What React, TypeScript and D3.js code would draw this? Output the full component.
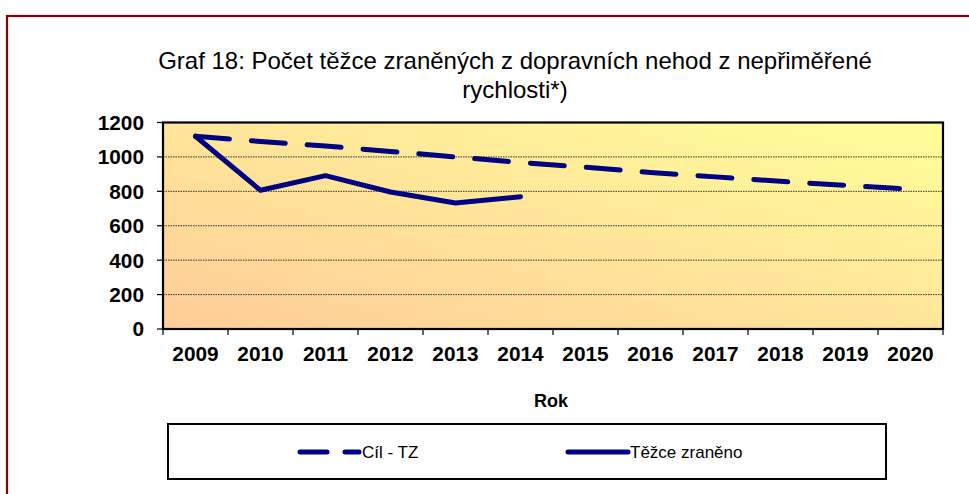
import * as d3 from "d3";

const years = ["2009", "2010", "2011", "2012", "2013", "2014", "2015", "2016", "2017", "2018", "2019", "2020"];
// Cíl - TZ (target), dashed
const targetValues = [1120, 1090, 1063, 1032, 1000, 968, 940, 910, 884, 858, 835, 812];
// Těžce zraněno (actual), solid
const actualYears = ["2009", "2010", "2011", "2012", "2013", "2014"];
const actualValues = [1120, 806, 891, 796, 732, 769];
const yTicks = [0, 200, 400, 600, 800, 1000, 1200];

const titleLines = ["Graf 18: Počet těžce zraněných z dopravních nehod z nepřiměřené", "rychlosti*)"];
const seriesNames = ["Cíl - TZ", "Těžce zraněno"];

const W = 969;
const H = 494;
const plot = { left: 163, right: 943, top: 122.5, bottom: 329 };
const navy = "#000080";
const font = "Arial, 'Liberation Sans', sans-serif";

const App = () => {
  const x = d3.scaleBand().domain(years).range([plot.left, plot.right]).paddingInner(0).paddingOuter(0);
  const y = d3.scaleLinear().domain([0, 1200]).range([plot.bottom, plot.top]);
  const cx = (d: string) => (x(d) ?? 0) + x.bandwidth() / 2;

  const line = d3
    .line<[string, number]>()
    .x((d) => cx(d[0]))
    .y((d) => y(d[1]));

  const targetPath = line(years.map((yr, i) => [yr, targetValues[i]]));
  const actualPath = line(actualYears.map((yr, i) => [yr, actualValues[i]]));

  const boundaries = [...years.map((d) => x(d) ?? 0), plot.right];

  return (
    <svg
      width={W}
      height={H}
      style={{ position: "absolute", left: 0, top: 0, background: "#fff" }}
      fontFamily={font}
    >
      <defs>
        <linearGradient id="bg" x1="0" y1="1" x2="1" y2="0">
          <stop offset="0%" stopColor="#FFCC99" />
          <stop offset="100%" stopColor="#FFFF99" />
        </linearGradient>
      </defs>

      {/* outer frame */}
      <rect x={7} y={16} width={1000} height={520} fill="#fff" stroke="#8B0000" strokeWidth={2.2} />

      {/* title */}
      {titleLines.map((t, i) => (
        <text key={i} x={515} y={69 + i * 28.5} textAnchor="middle" fontSize={24} fill="#000">
          {t}
        </text>
      ))}

      {/* plot background */}
      <rect x={plot.left} y={plot.top} width={plot.right - plot.left} height={plot.bottom - plot.top} fill="url(#bg)" />

      {/* gridlines */}
      {yTicks
        .filter((v) => v > 0 && v < 1200)
        .map((v) => (
          <line
            key={v}
            x1={plot.left}
            x2={plot.right}
            y1={y(v)}
            y2={y(v)}
            stroke="#333"
            strokeWidth={1}
            strokeDasharray="1.5 1"
          />
        ))}

      {/* plot border */}
      <rect
        x={plot.left}
        y={plot.top}
        width={plot.right - plot.left}
        height={plot.bottom - plot.top}
        fill="none"
        stroke="#000"
        strokeWidth={2.2}
      />

      {/* y axis ticks and labels */}
      {yTicks.map((v) => (
        <g key={v}>
          <line x1={plot.left - 6} x2={plot.left} y1={y(v)} y2={y(v)} stroke="#000" strokeWidth={1.2} />
          <text x={144} y={y(v)} dy="0.36em" textAnchor="end" fontSize={20.8} fontWeight="bold">
            {v}
          </text>
        </g>
      ))}

      {/* x axis ticks and labels */}
      {boundaries.map((b, i) => (
        <line key={i} x1={b} x2={b} y1={plot.bottom} y2={plot.bottom + 6} stroke="#000" strokeWidth={1.2} />
      ))}
      {years.map((yr) => (
        <text key={yr} x={cx(yr)} y={360.5} textAnchor="middle" fontSize={20.8} fontWeight="bold">
          {yr}
        </text>
      ))}

      <text x={551} y={407} textAnchor="middle" fontSize={18} fontWeight="bold">
        Rok
      </text>

      {/* series */}
      <path
        d={targetPath ?? ""}
        fill="none"
        stroke={navy}
        strokeWidth={5}
        strokeDasharray="34 22"
        strokeLinecap="round"
        strokeLinejoin="round"
      />
      <path d={actualPath ?? ""} fill="none" stroke={navy} strokeWidth={5} strokeLinecap="round" strokeLinejoin="round" />

      {/* legend */}
      <rect x={168} y={424} width={718} height={55} fill="#fff" stroke="#000" strokeWidth={2} />
      <line x1={300} x2={327} y1={452} y2={452} stroke={navy} strokeWidth={5} strokeLinecap="round" />
      <line x1={345} x2={359} y1={452} y2={452} stroke={navy} strokeWidth={5} strokeLinecap="round" />
      <text x={362} y={452} dy="0.36em" fontSize={17}>
        {seriesNames[0]}
      </text>
      <line x1={568} x2={628} y1={452} y2={452} stroke={navy} strokeWidth={5} strokeLinecap="round" />
      <text x={630} y={452} dy="0.36em" fontSize={17}>
        {seriesNames[1]}
      </text>
    </svg>
  );
};

export default App;
